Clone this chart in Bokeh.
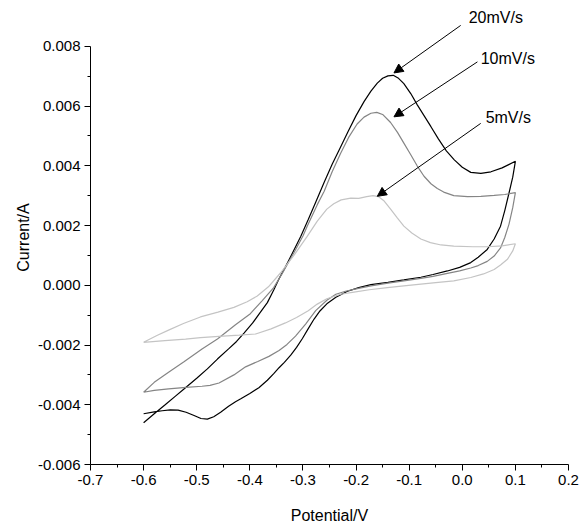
from bokeh.plotting import figure
from bokeh.models import Range1d, FixedTicker, PrintfTickFormatter, Arrow, NormalHead, Label
from bokeh.embed import file_html
from bokeh.resources import INLINE

# ---- data ----
# 20 mV/s : forward (anodic) scan then reverse scan
v20_fwd = [-0.600, -0.580, -0.560, -0.540, -0.524, -0.500, -0.480, -0.461, -0.440, -0.425,
           -0.411, -0.395, -0.380, -0.367, -0.355, -0.345, -0.329, -0.315, -0.304, -0.290,
           -0.276, -0.260, -0.245, -0.230, -0.215, -0.200, -0.185, -0.172, -0.160, -0.150,
           -0.140, -0.130, -0.120, -0.110, -0.097, -0.085, -0.072, -0.059, -0.045, -0.030,
           -0.015, 0.000, 0.016, 0.035, 0.054, 0.075, 0.100]
i20_fwd = [-0.00460, -0.00430, -0.00401, -0.00371, -0.00347, -0.00311, -0.00280, -0.00247, -0.00213, -0.00188,
           -0.00160, -0.00127, -0.00090, -0.00058, -0.00016, 0.00022, 0.00075, 0.00125, 0.00164, 0.00220,
           0.00278, 0.00345, 0.00405, 0.00460, 0.00515, 0.00568, 0.00615, 0.00650, 0.00677, 0.00693,
           0.00701, 0.00703, 0.00693, 0.00675, 0.00642, 0.00605, 0.00568, 0.00531, 0.00490, 0.00450,
           0.00420, 0.00395, 0.00378, 0.00375, 0.00380, 0.00393, 0.00415]
v20_rev = [0.100, 0.095, 0.088, 0.080, 0.072, 0.060, 0.047, 0.030, 0.016, -0.005,
           -0.028, -0.055, -0.078, -0.110, -0.140, -0.172, -0.195, -0.216, -0.238, -0.255,
           -0.268, -0.279, -0.290, -0.301, -0.312, -0.323, -0.335, -0.345, -0.355, -0.367,
           -0.383, -0.400, -0.417, -0.427, -0.440, -0.455, -0.468, -0.480, -0.492, -0.505,
           -0.520, -0.535, -0.550, -0.565, -0.580, -0.600]
i20_rev = [0.00415, 0.00362, 0.00309, 0.00250, 0.00198, 0.00155, 0.00120, 0.00094, 0.00076, 0.00060,
           0.00048, 0.00036, 0.00027, 0.00018, 0.00010, 0.00002, -0.00008, -0.00020, -0.00040, -0.00062,
           -0.00086, -0.00113, -0.00145, -0.00178, -0.00208, -0.00234, -0.00258, -0.00276, -0.00296, -0.00318,
           -0.00343, -0.00362, -0.00380, -0.00390, -0.00405, -0.00425, -0.00440, -0.00448, -0.00446, -0.00436,
           -0.00425, -0.00418, -0.00417, -0.00420, -0.00424, -0.00430]

# 10 mV/s
v10_fwd = [-0.600, -0.580, -0.553, -0.524, -0.490, -0.461, -0.427, -0.399, -0.377, -0.355,
           -0.339, -0.317, -0.300, -0.292, -0.273, -0.260, -0.245, -0.229, -0.214, -0.198,
           -0.185, -0.172, -0.161, -0.150, -0.135, -0.122, -0.110, -0.097, -0.085, -0.072,
           -0.059, -0.047, -0.035, -0.016, 0.010, 0.035, 0.060, 0.080, 0.100]
i10_fwd = [-0.00358, -0.00325, -0.00291, -0.00256, -0.00213, -0.00180, -0.00132, -0.00095, -0.00052, -0.00008,
           0.00040, 0.00109, 0.00165, 0.00198, 0.00270, 0.00315, 0.00380, 0.00442, 0.00495, 0.00540,
           0.00563, 0.00576, 0.00579, 0.00572, 0.00545, 0.00512, 0.00476, 0.00437, 0.00400, 0.00365,
           0.00340, 0.00324, 0.00312, 0.00300, 0.00297, 0.00298, 0.00301, 0.00304, 0.00310]
v10_rev = [0.100, 0.095, 0.088, 0.080, 0.072, 0.060, 0.047, 0.030, 0.016, -0.005,
           -0.028, -0.055, -0.078, -0.110, -0.140, -0.172, -0.200, -0.220, -0.238, -0.255,
           -0.276, -0.295, -0.314, -0.330, -0.345, -0.364, -0.385, -0.408, -0.430, -0.458,
           -0.475, -0.490, -0.520, -0.553, -0.580, -0.600]
i10_rev = [0.00310, 0.00260, 0.00205, 0.00160, 0.00125, 0.00098, 0.00080, 0.00066, 0.00058, 0.00048,
           0.00040, 0.00030, 0.00023, 0.00015, 0.00007, -0.00002, -0.00012, -0.00020, -0.00030, -0.00050,
           -0.00085, -0.00130, -0.00170, -0.00198, -0.00218, -0.00238, -0.00255, -0.00273, -0.00300, -0.00327,
           -0.00335, -0.00338, -0.00342, -0.00347, -0.00352, -0.00358]

# 5 mV/s
v5_fwd = [-0.600, -0.575, -0.553, -0.525, -0.493, -0.460, -0.430, -0.405, -0.386, -0.365,
          -0.342, -0.317, -0.292, -0.273, -0.255, -0.242, -0.228, -0.210, -0.195, -0.180,
          -0.168, -0.158, -0.147, -0.135, -0.122, -0.110, -0.095, -0.078, -0.060, -0.040,
          -0.016, 0.020, 0.047, 0.075, 0.100]
i5_fwd = [-0.00191, -0.00168, -0.00150, -0.00128, -0.00106, -0.00090, -0.00074, -0.00055, -0.00036, -0.00005,
          0.00042, 0.00100, 0.00164, 0.00215, 0.00255, 0.00273, 0.00286, 0.00292, 0.00291, 0.00297,
          0.00300, 0.00297, 0.00282, 0.00255, 0.00225, 0.00198, 0.00175, 0.00155, 0.00143, 0.00135,
          0.00131, 0.00129, 0.00129, 0.00132, 0.00139]
v5_rev = [0.100, 0.095, 0.085, 0.072, 0.060, 0.040, 0.016, -0.016, -0.050, -0.078,
          -0.110, -0.141, -0.175, -0.204, -0.229, -0.255, -0.273, -0.290, -0.312, -0.333,
          -0.360, -0.389, -0.420, -0.458, -0.493, -0.521, -0.560, -0.600]
i5_rev = [0.00139, 0.00115, 0.00087, 0.00068, 0.00053, 0.00038, 0.00026, 0.00015, 0.00009, 0.00004,
          -0.00002, -0.00008, -0.00015, -0.00023, -0.00030, -0.00045, -0.00063, -0.00085, -0.00108, -0.00126,
          -0.00146, -0.00163, -0.00167, -0.00171, -0.00175, -0.00180, -0.00185, -0.00191]

x_ticks = [-0.7, -0.6, -0.5, -0.4, -0.3, -0.2, -0.1, 0.0, 0.1, 0.2]
x_minor = [-0.65, -0.55, -0.45, -0.35, -0.25, -0.15, -0.05, 0.05, 0.15]
y_ticks = [-0.006, -0.004, -0.002, 0.0, 0.002, 0.004, 0.006, 0.008]
y_minor = [-0.005, -0.003, -0.001, 0.001, 0.003, 0.005, 0.007]

labels = ["20mV/s", "10mV/s", "5mV/s"]

FONT = "Liberation Sans"

p = figure(width=579, height=526, x_range=Range1d(-0.7, 0.2), y_range=Range1d(-0.006, 0.0092),
           output_backend="svg", toolbar_location=None,
           min_border_left=90, min_border_right=11, min_border_top=10, min_border_bottom=60)
p.xgrid.visible = False
p.ygrid.visible = False
p.outline_line_color = None
p.background_fill_color = "white"
p.border_fill_color = "white"

p.line(v20_fwd + v20_rev, i20_fwd + i20_rev, line_color="#000000", line_width=1.2)
p.line(v10_fwd + v10_rev, i10_fwd + i10_rev, line_color="#858585", line_width=1.2)
p.line(v5_fwd + v5_rev, i5_fwd + i5_rev, line_color="#c4c4c4", line_width=1.2)

for ax in (p.xaxis[0], p.yaxis[0]):
    ax.axis_line_color = "black"
    ax.axis_line_width = 1
    ax.major_tick_line_color = "black"
    ax.minor_tick_line_color = "black"
    ax.major_tick_out = 6
    ax.major_tick_in = 0
    ax.minor_tick_out = 3
    ax.minor_tick_in = 0
    ax.major_label_text_font = FONT
    ax.major_label_text_font_size = "15px"
    ax.major_label_text_color = "black"
    ax.axis_label_text_font = FONT
    ax.axis_label_text_font_size = "16px"
    ax.axis_label_text_font_style = "normal"
    ax.axis_label_text_color = "black"
    ax.major_label_standoff = 4

p.xaxis.ticker = FixedTicker(ticks=x_ticks, minor_ticks=x_minor)
p.yaxis.ticker = FixedTicker(ticks=y_ticks, minor_ticks=y_minor)
p.xaxis.formatter = PrintfTickFormatter(format="%.1f")
p.yaxis.formatter = PrintfTickFormatter(format="%.3f")
p.yaxis.bounds = (-0.006, 0.008)
p.xaxis.axis_label = "Potential/V"
p.yaxis.axis_label = "Current/A"
p.xaxis.axis_label_standoff = 19
p.yaxis.axis_label_standoff = 3

# annotations: arrows and labels
arrows = [(-0.003, 0.0087, -0.1286, 0.00711),
          (0.0285, 0.00748, -0.1286, 0.00564),
          (0.0347, 0.00542, -0.160, 0.00298)]
label_pos = [(0.012, 0.00895), (0.0347, 0.0076), (0.044, 0.00563)]
for (xs, ys, xe, ye), (lx, ly), txt in zip(arrows, label_pos, labels):
    p.add_layout(Arrow(end=NormalHead(size=9, fill_color="black", line_color="black", line_width=1),
                       x_start=xs, y_start=ys, x_end=xe, y_end=ye,
                       line_color="black", line_width=1))
    p.add_layout(Label(x=lx, y=ly, text=txt, text_font=FONT, text_font_size="16px",
                       text_baseline="middle", text_align="left", text_color="black"))

open("out.html", "w").write(file_html(p, INLINE))
